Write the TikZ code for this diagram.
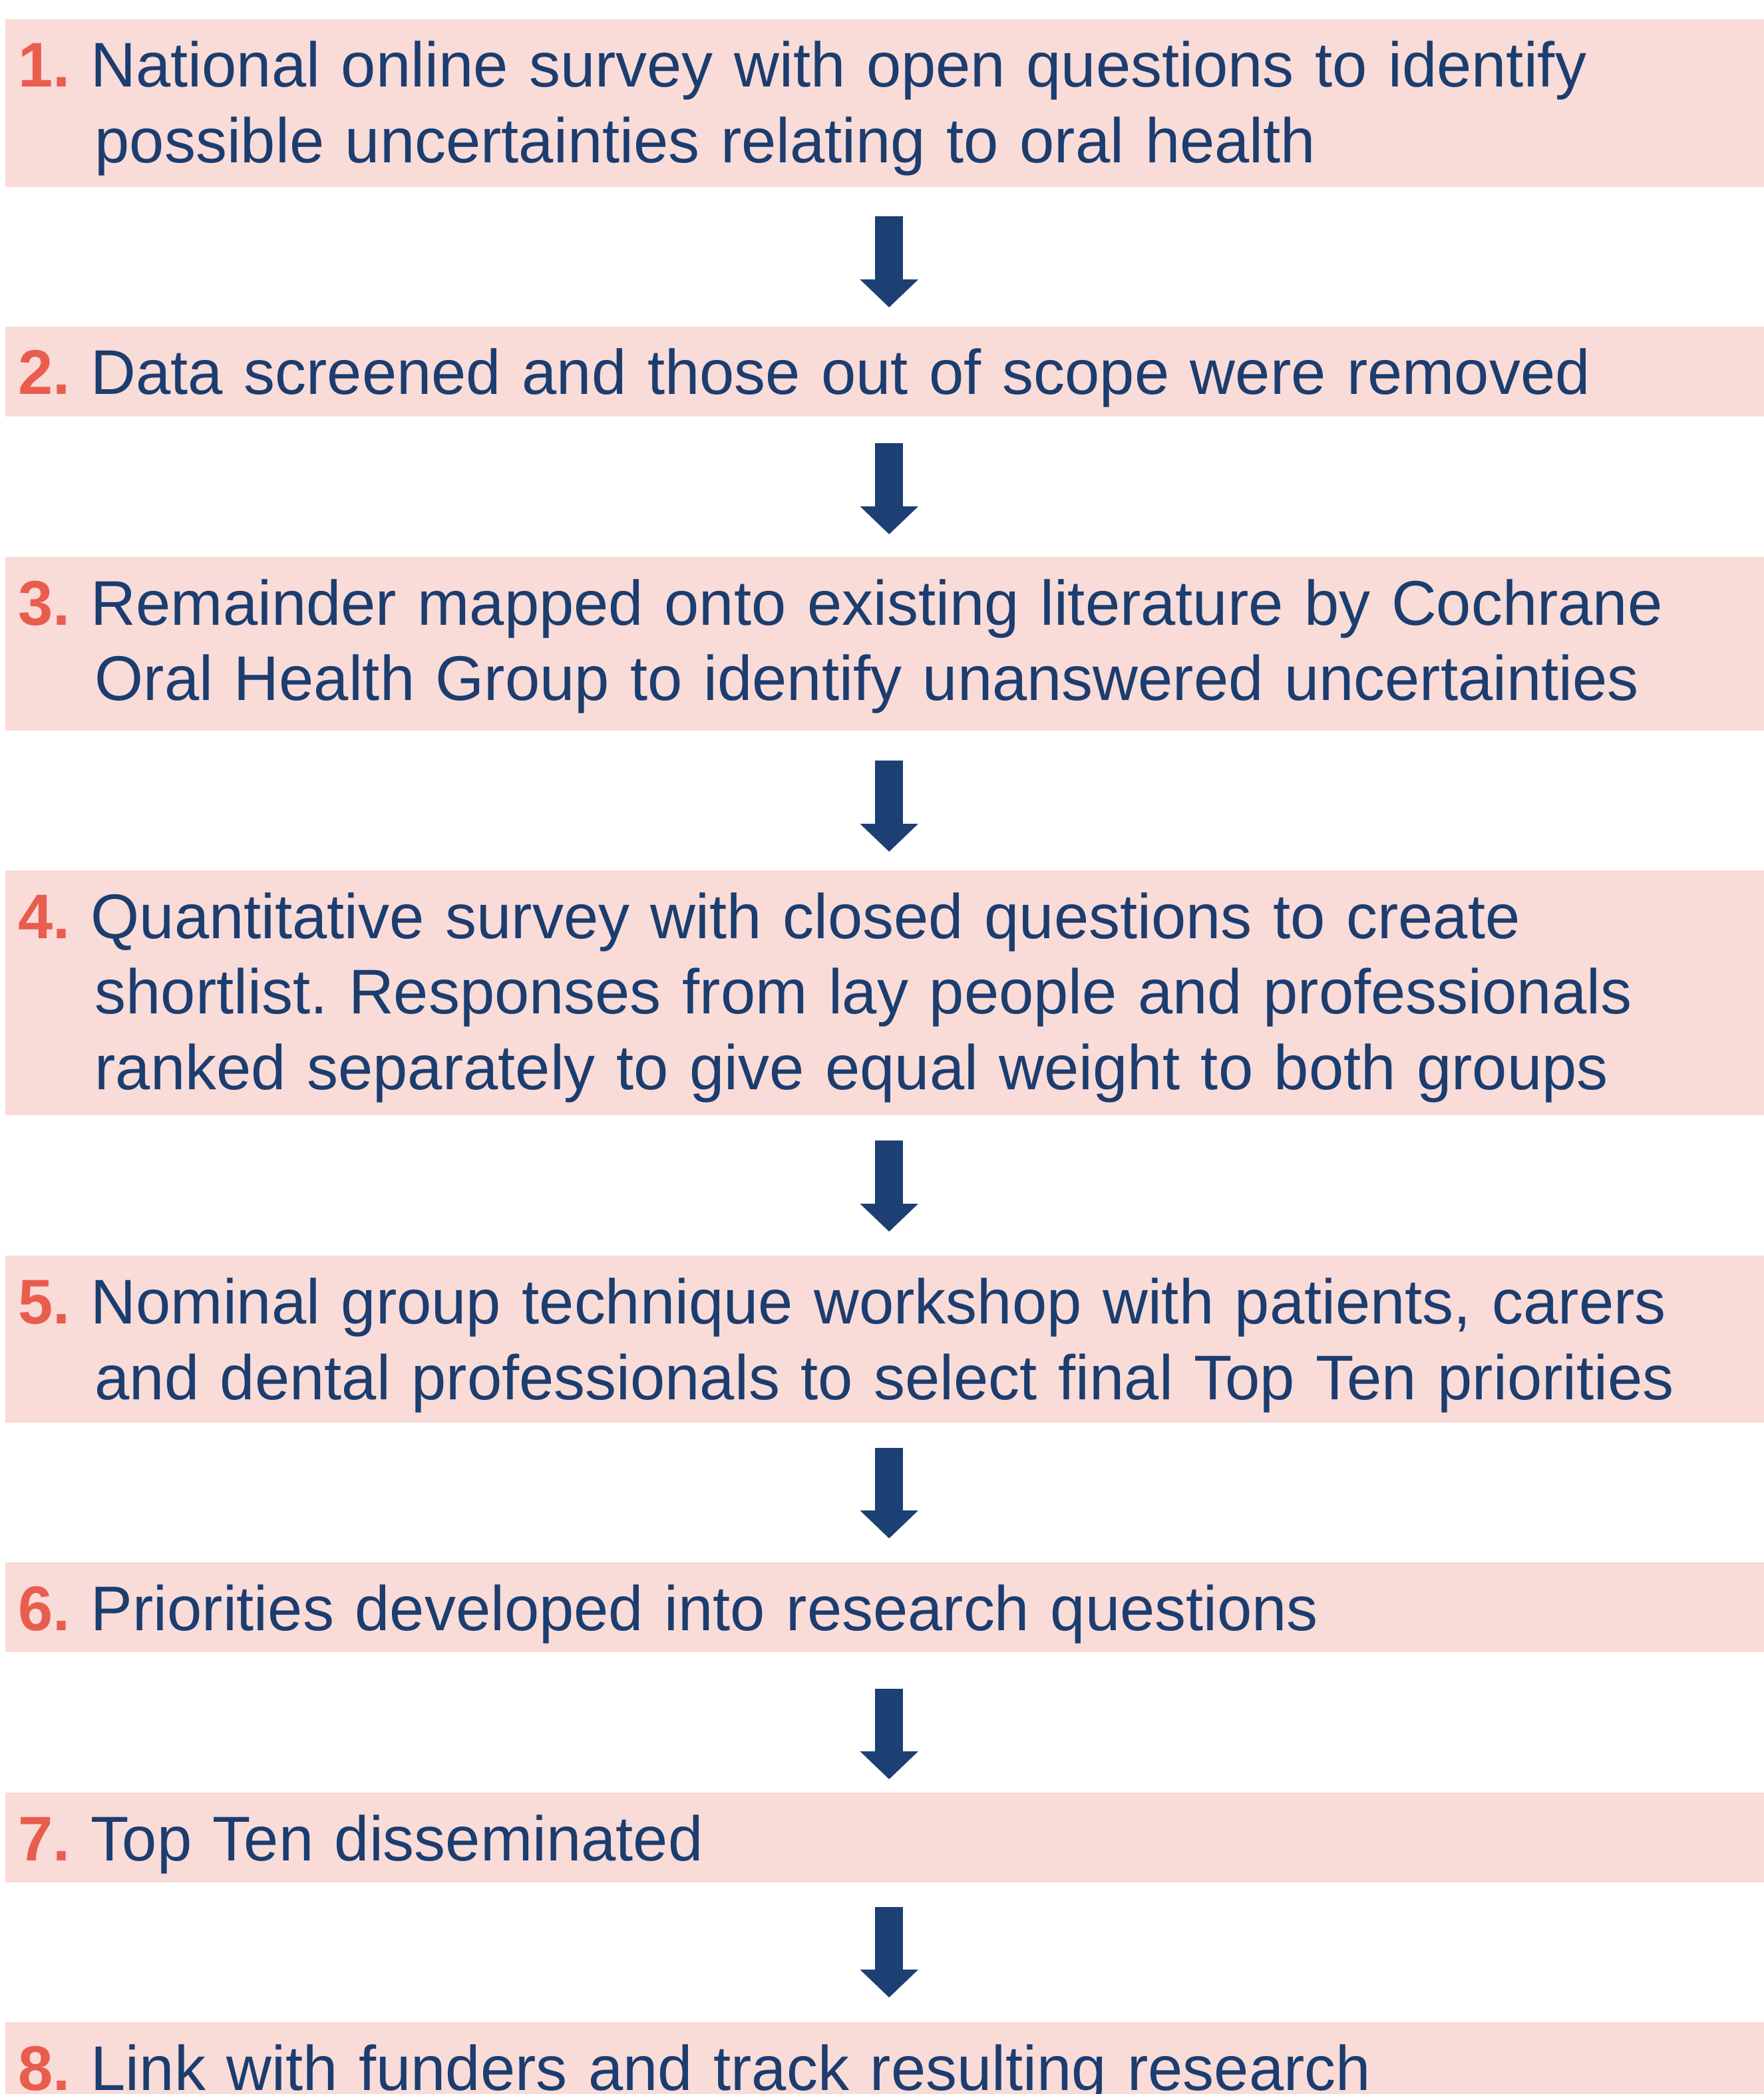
\documentclass[tikz,border=0pt]{standalone}
\usepackage{fontspec}
\setmainfont{Liberation Sans}[FakeStretch=0.99]
\usetikzlibrary{arrows.meta}
\frenchspacing
\definecolor{boxpink}{HTML}{F9DBD8}
\definecolor{numred}{HTML}{E95D4F}
\definecolor{textblue}{HTML}{1B3D6F}
\definecolor{arrowblue}{HTML}{1C3F74}
\newcommand\nl{\\\hspace*{0.6mm}}
\tikzset{
  stepbox/.style={rectangle, fill=boxpink, anchor=north west,
    minimum width=26.43cm, inner sep=0pt},
  stepnum/.style={anchor=base west, inner sep=0pt, text=numred,
    font=\fontsize{27pt}{32.43pt}\selectfont\bfseries},
  steptext/.style={anchor=base west, inner sep=0pt, text=textblue,
    text width=25cm, align=left, font=\fontsize{27pt}{32.43pt}\selectfont},
  flowarrow/.style={draw=arrowblue, line width=4.2mm,
    -{Triangle[width=8.5mm,length=4.2mm]}},
}
\begin{document}
\begin{tikzpicture}
      \useasboundingbox (0,0) rectangle (26.5,-31.47);
      % boxes
      \node[stepbox, minimum height=2.52cm] (b1) at (0.07,-0.28) {};
      \node[stepbox, minimum height=1.35cm] (b2) at (0.07,-4.90) {};
      \node[stepbox, minimum height=2.61cm] (b3) at (0.07,-8.36) {};
      \node[stepbox, minimum height=3.68cm] (b4) at (0.07,-13.07) {};
      \node[stepbox, minimum height=2.51cm] (b5) at (0.07,-18.86) {};
      \node[stepbox, minimum height=1.35cm] (b6) at (0.07,-23.47) {};
      \node[stepbox, minimum height=1.35cm] (b7) at (0.07,-26.93) {};
      \node[stepbox, minimum height=1.35cm] (b8) at (0.07,-30.38) {};
      % numbers
      \node[stepnum] (n1) at ([xshift=2mm,yshift=-10.3mm]b1.north west) {1.};
      \node[stepnum] (n2) at ([xshift=2mm,yshift=-10.3mm]b2.north west) {2.};
      \node[stepnum] (n3) at ([xshift=2mm,yshift=-10.3mm]b3.north west) {3.};
      \node[stepnum] (n4) at ([xshift=2mm,yshift=-10.3mm]b4.north west) {4.};
      \node[stepnum] (n5) at ([xshift=2mm,yshift=-10.3mm]b5.north west) {5.};
      \node[stepnum] (n6) at ([xshift=2mm,yshift=-10.3mm]b6.north west) {6.};
      \node[stepnum] (n7) at ([xshift=2mm,yshift=-10.3mm]b7.north west) {7.};
      \node[stepnum] (n8) at ([xshift=2mm,yshift=-10.3mm]b8.north west) {8.};
      % texts
      \node[steptext] (t1) at ([xshift=12.9mm,yshift=-10.3mm]b1.north west)
        {National online survey with open questions to identify\nl possible uncertainties relating to oral health};
      \node[steptext] (t2) at ([xshift=12.9mm,yshift=-10.3mm]b2.north west)
        {Data screened and those out of scope were removed};
      \node[steptext] (t3) at ([xshift=12.9mm,yshift=-10.3mm]b3.north west)
        {Remainder mapped onto existing literature by Cochrane\nl Oral Health Group to identify unanswered uncertainties};
      \node[steptext] (t4) at ([xshift=12.9mm,yshift=-10.3mm]b4.north west)
        {Quantitative survey with closed questions to create\nl shortlist. Responses from lay people and professionals\nl ranked separately to give equal weight to both groups};
      \node[steptext] (t5) at ([xshift=12.9mm,yshift=-10.3mm]b5.north west)
        {Nominal group technique workshop with patients, carers\nl and dental professionals to select final Top Ten priorities};
      \node[steptext] (t6) at ([xshift=12.9mm,yshift=-10.3mm]b6.north west)
        {Priorities developed into research questions};
      \node[steptext] (t7) at ([xshift=12.9mm,yshift=-10.3mm]b7.north west)
        {Top Ten disseminated};
      \node[steptext] (t8) at ([xshift=12.9mm,yshift=-10.3mm]b8.north west)
        {Link with funders and track resulting research};
      \begin{scope}[flowarrow]
        \draw ([xshift=0.7mm,yshift=-4.4mm]b1.south) to ([xshift=0.7mm,yshift=2.8mm]b2.north);
        \draw ([xshift=0.7mm,yshift=-4.0mm]b2.south) to ([xshift=0.7mm,yshift=3.3mm]b3.north);
        \draw ([xshift=0.7mm,yshift=-4.5mm]b3.south) to ([xshift=0.7mm,yshift=2.7mm]b4.north);
        \draw ([xshift=0.7mm,yshift=-3.8mm]b4.south) to ([xshift=0.7mm,yshift=3.5mm]b5.north);
        \draw ([xshift=0.7mm,yshift=-3.8mm]b5.south) to ([xshift=0.7mm,yshift=3.5mm]b6.north);
        \draw ([xshift=0.7mm,yshift=-5.5mm]b6.south) to ([xshift=0.7mm,yshift=1.9mm]b7.north);
        \draw ([xshift=0.7mm,yshift=-3.7mm]b7.south) to ([xshift=0.7mm,yshift=3.6mm]b8.north);
      \end{scope}
    \end{tikzpicture}
\end{document}
